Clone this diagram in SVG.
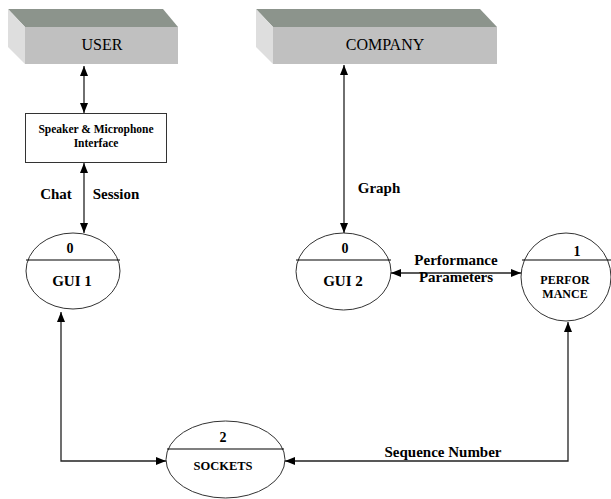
<svg xmlns="http://www.w3.org/2000/svg" width="611" height="499" viewBox="0 0 611 499">
<defs>
<marker id="ah" viewBox="0 0 10 8" refX="10" refY="4" markerWidth="10" markerHeight="8" markerUnits="userSpaceOnUse" orient="auto-start-reverse">
<path d="M0,0 L10,4 L0,8 Z" fill="#000"/>
</marker>
<style>
.top{fill:#8c948c}
.front{fill:#c0c0c0}
.side{fill:#dedede}
text{font-family:'Liberation Serif','Times New Roman',serif;fill:#000;text-anchor:middle}
.b{font-weight:bold}
.ell{fill:#fff;stroke:#333;stroke-width:1}
.sep{stroke:#000;stroke-width:1.2}
.con{fill:none;stroke:#222;stroke-width:1.3}
</style>
</defs>
<rect width="611" height="499" fill="#fff"/>
<g id="user">
<polygon class="top" points="8,9 163,9 178,27 25,27"/>
<polygon class="side" points="8,9 25,27 25,64 8,47"/>
<rect class="front" x="25" y="27" width="153" height="37"/>
<text x="102" y="50" font-size="16">USER</text>
</g>
<g id="company">
<polygon class="top" points="256,9 480,9 497,27 273,27"/>
<polygon class="side" points="256,9 273,27 273,64 256,47"/>
<rect class="front" x="273" y="27" width="224" height="37"/>
<text x="385" y="50" font-size="16">COMPANY</text>
</g>
<g id="speaker">
<rect x="25.5" y="113.5" width="141" height="49" fill="#fff" stroke="#333" stroke-width="1"/>
<text class="b" x="96" y="133" font-size="11.5">Speaker &amp; Microphone</text>
<text class="b" x="96" y="147" font-size="11.5">Interface</text>
</g>
<g id="gui1">
<ellipse class="ell" cx="73" cy="271" rx="47" ry="38"/>
<line class="sep" x1="26" y1="260" x2="120" y2="260"/>
<text class="b" x="70" y="253" font-size="14">0</text>
<text class="b" x="72" y="286" font-size="15">GUI 1</text>
</g>
<g id="gui2">
<ellipse class="ell" cx="343.5" cy="271.5" rx="47.5" ry="38.5"/>
<line class="sep" x1="296" y1="260" x2="391" y2="260"/>
<text class="b" x="345" y="253" font-size="14">0</text>
<text class="b" x="343" y="286" font-size="15">GUI 2</text>
</g>
<g id="performance">
<ellipse class="ell" cx="566" cy="277" rx="45" ry="44"/>
<line class="sep" x1="522" y1="260" x2="611" y2="260"/>
<text class="b" x="577" y="256" font-size="14">1</text>
<text class="b" x="565" y="284" font-size="12">PERFOR</text>
<text class="b" x="565" y="298" font-size="12">MANCE</text>
</g>
<g id="sockets">
<ellipse class="ell" cx="225.5" cy="459.5" rx="59.5" ry="38.5"/>
<line class="sep" x1="167" y1="449" x2="284" y2="449"/>
<text class="b" x="223" y="442" font-size="14">2</text>
<text class="b" x="223" y="470" font-size="12.5">SOCKETS</text>
</g>
<g id="connectors">
<line class="con" x1="84" y1="66" x2="84" y2="113" marker-start="url(#ah)" marker-end="url(#ah)"/>
<line class="con" x1="84" y1="163" x2="84" y2="233" marker-start="url(#ah)" marker-end="url(#ah)"/>
<line class="con" x1="344" y1="65" x2="344" y2="233" marker-start="url(#ah)" marker-end="url(#ah)"/>
<line class="con" x1="391" y1="273" x2="521" y2="273" marker-start="url(#ah)" marker-end="url(#ah)"/>
<polyline class="con" points="61,312 61,461 166,461" marker-start="url(#ah)" marker-end="url(#ah)"/>
<polyline class="con" points="285,461 568,461 568,322" marker-start="url(#ah)" marker-end="url(#ah)"/>
<text class="b" x="56" y="199" font-size="15">Chat</text>
<text class="b" x="116" y="199" font-size="15">Session</text>
<text class="b" x="379" y="193" font-size="15">Graph</text>
<text class="b" x="456" y="265" font-size="15">Performance</text>
<text class="b" x="456" y="282" font-size="15">Parameters</text>
<text class="b" x="443" y="457" font-size="15">Sequence Number</text>
</g>
</svg>
